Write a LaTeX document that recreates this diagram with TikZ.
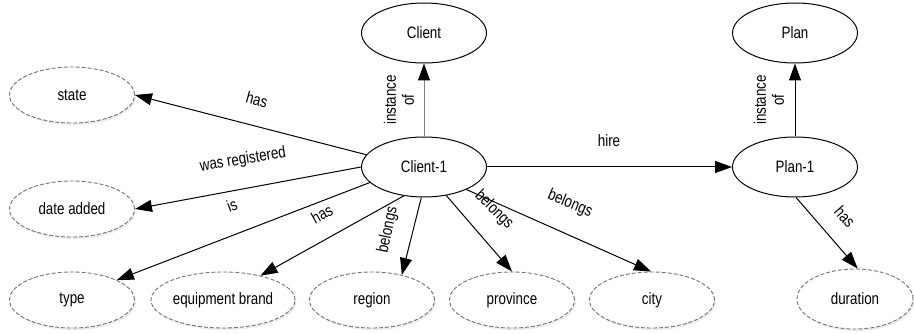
\documentclass[tikz,border=0pt]{standalone}
\usepackage{fontspec}
\setmainfont{Liberation Sans}[FakeStretch=0.81]
\usetikzlibrary{arrows.meta,shapes.geometric,shadows}
\begin{document}
\begin{tikzpicture}[x=1pt,y=-1pt,
  every node/.style={font=\fontsize{16.5}{18}\selectfont},
  cls/.style={ellipse, draw=black, line width=1pt, fill=white,
    minimum width=125pt, minimum height=60pt, inner sep=0pt},
  attr/.style={ellipse, draw=black!55, dash pattern=on 4pt off 2pt,
    line width=0.9pt, fill=white, minimum width=125pt, minimum height=56pt,
    inner sep=0pt,
    drop shadow={shadow xshift=1.5pt, shadow yshift=-2pt, fill=black!15}},
  rel/.style={line width=1pt, -{Triangle[length=17pt,width=12pt,color=black]}},
  lbl/.style={inner sep=0pt, align=center}]
\useasboundingbox (0,0) rectangle (914,334);

% class nodes
\node[cls] (client) at (424,33) {Client};
\node[cls] (cl1) at (424,167) {Client-1};
\node[cls] (plan) at (795,33) {Plan};
\node[cls] (plan1) at (795,167) {Plan-1};

% attribute nodes
\node[attr] (state) at (72,95) {state};
\node[attr] (date) at (72,209) {date added};
\node[attr] (type) at (72,300) {type};
\node[attr, minimum width=144pt] (brand) at (223,300) {equipment brand};
\node[attr] (region) at (372,300) {region};
\node[attr] (province) at (512,300) {province};
\node[attr] (city) at (652,300) {city};
\node[attr, minimum width=116pt, minimum height=60pt] (duration) at (855,299) {duration};

% connectors
\draw[rel, draw=black!50] (cl1) -- (client);
\draw[rel] (plan1) -- (plan);
\draw[rel] (cl1) -- (plan1);
\draw[rel] (cl1.168) -- (state.east);
\draw[rel] (cl1.west) -- (date.east);
\draw[rel] (cl1.196) -- (type.24);
\draw[rel] (cl1.235) -- (brand.33);
\draw[rel] (cl1.265) -- (region.40);
\draw[rel] (cl1.308) -- (province.north);
\draw[rel] (cl1.332) -- (city.92);
\draw[rel] (plan1.272) -- (duration.85);

% labels
\node[lbl, rotate=-15] (l1) at (257,100) {has};
\node[lbl, rotate=9.6] (l2) at (243,160) {was registered};
\node[lbl, rotate=21] (l3) at (232,205) {is};
\node[lbl, rotate=29] (l4) at (322,214) {has};
\node[lbl, rotate=78] (l5) at (388,230) {belongs};
\node[lbl, rotate=-45] (l6) at (494,210) {belongs};
\node[lbl, rotate=-23] (l7) at (570,204) {belongs};
\node[lbl, rotate=90] (l8) at (399,100) {instance\\of};
\node[lbl] (l9) at (609,141) {hire};
\node[lbl, rotate=90] (l10) at (769,100) {instance\\of};
\node[lbl, rotate=-48.5] (l11) at (845,217) {has};
\end{tikzpicture}
\end{document}
